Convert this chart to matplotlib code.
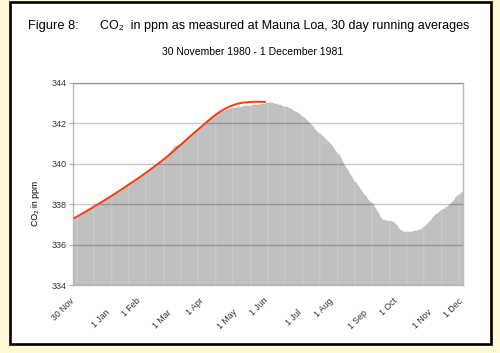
import matplotlib
matplotlib.use("Agg")
import matplotlib.pyplot as plt
from matplotlib.patches import Rectangle

plt.rcParams['font.family'] = ['Liberation Sans', 'DejaVu Sans']

# Daily 30-day running average CO2 (ppm), day 0 = 30 Nov 1980 ... day 366 = 1 Dec 1981
co2_daily = [
    337.25, 337.28, 337.31, 337.34, 337.37, 337.40, 337.43, 337.46, 337.49, 337.52,
    337.55, 337.58, 337.61, 337.64, 337.67, 337.70, 337.73, 337.76, 337.79, 337.82,
    337.85, 337.88, 337.91, 337.94, 337.97, 338.00, 338.04, 338.07, 338.10, 338.14,
    338.20, 338.23, 338.26, 338.29, 338.33, 338.36, 338.39, 338.43, 338.46, 338.50,
    338.53, 338.56, 338.60, 338.63, 338.67, 338.70, 338.74, 338.77, 338.81, 338.84,
    338.88, 338.91, 338.95, 338.98, 339.02, 339.05, 339.09, 339.12, 339.16, 339.19,
    339.23, 339.27, 339.30, 339.34, 339.38, 339.41, 339.45, 339.49, 339.53, 339.56,
    339.60, 339.64, 339.68, 339.72, 339.76, 339.80, 339.84, 339.88, 339.92, 339.96,
    339.99, 340.03, 340.07, 340.11, 340.15, 340.20, 340.25, 340.30, 340.36, 340.42,
    340.48, 340.55, 340.62, 340.70, 340.78, 340.84, 340.86, 340.87, 340.88, 340.90,
    340.92, 340.96, 341.00, 341.04, 341.08, 341.12, 341.16, 341.20, 341.24, 341.28,
    341.33, 341.37, 341.42, 341.46, 341.51, 341.55, 341.60, 341.64, 341.69, 341.73,
    341.78, 341.83, 341.88, 341.93, 341.98, 342.03, 342.07, 342.11, 342.15, 342.20,
    342.25, 342.29, 342.32, 342.36, 342.39, 342.42, 342.45, 342.48, 342.51, 342.53,
    342.55, 342.58, 342.60, 342.62, 342.64, 342.66, 342.68, 342.70, 342.71, 342.73,
    342.74, 342.75, 342.76, 342.77, 342.78, 342.79, 342.80, 342.81, 342.82, 342.82,
    342.83, 342.84, 342.84, 342.85, 342.85, 342.86, 342.87, 342.87, 342.88, 342.88,
    342.89, 342.89, 342.90, 342.90, 342.91, 342.92, 342.93, 342.94, 342.95, 342.96,
    342.97, 342.97, 342.98, 342.98, 342.98, 342.99, 342.99, 342.98, 342.98, 342.97,
    342.96, 342.95, 342.94, 342.92, 342.90, 342.88, 342.86, 342.84, 342.82, 342.81,
    342.80, 342.78, 342.76, 342.74, 342.71, 342.68, 342.65, 342.62, 342.59, 342.56,
    342.54, 342.51, 342.49, 342.45, 342.41, 342.36, 342.31, 342.26, 342.21, 342.16,
    342.12, 342.08, 342.03, 341.97, 341.91, 341.85, 341.79, 341.73, 341.68, 341.62,
    341.57, 341.52, 341.47, 341.42, 341.37, 341.33, 341.28, 341.23, 341.18, 341.13,
    341.08, 341.03, 340.97, 340.91, 340.85, 340.78, 340.72, 340.65, 340.58, 340.50,
    340.42, 340.34, 340.25, 340.15, 340.05, 339.94, 339.86, 339.78, 339.70, 339.62,
    339.54, 339.46, 339.38, 339.29, 339.20, 339.12, 339.04, 338.96, 338.88, 338.80,
    338.73, 338.66, 338.59, 338.52, 338.46, 338.40, 338.34, 338.28, 338.22, 338.16,
    338.10, 338.04, 337.96, 337.88, 337.80, 337.72, 337.63, 337.55, 337.46, 337.38,
    337.30, 337.24, 337.22, 337.21, 337.20, 337.19, 337.18, 337.17, 337.16, 337.15,
    337.13, 337.10, 337.05, 337.00, 336.95, 336.90, 336.84, 336.78, 336.73, 336.70,
    336.67, 336.65, 336.64, 336.64, 336.64, 336.64, 336.64, 336.64, 336.64, 336.65,
    336.67, 336.69, 336.70, 336.70, 336.70, 336.71, 336.72, 336.73, 336.76, 336.80,
    336.85, 336.90, 336.95, 337.00, 337.05, 337.10, 337.17, 337.24, 337.30, 337.35,
    337.40, 337.45, 337.50, 337.54, 337.58, 337.62, 337.66, 337.70, 337.74, 337.77,
    337.80, 337.84, 337.88, 337.92, 337.96, 338.01, 338.06, 338.11, 338.16, 338.22,
    338.29, 338.34, 338.40, 338.46, 338.51, 338.56, 338.62,
]

# Red trend line (day, ppm)
trend_days = [0, 10, 20, 30, 40, 50, 60, 70, 80, 90, 100, 110, 120, 125, 130, 135,
              140, 145, 150, 155, 160, 170, 181]
trend_ppm = [337.3, 337.6, 337.91, 338.23, 338.56, 338.91, 339.26, 339.63, 340.02, 340.44,
             340.9, 341.37, 341.82, 342.05, 342.27, 342.47, 342.64, 342.78, 342.89,
             342.97, 343.02, 343.06, 343.05]

tick_days = [0, 32, 63, 91, 122, 152, 183, 213, 244, 275, 305, 336, 366]
tick_labels = ['30 Nov', '1 Jan', '1 Feb', '1 Mar', '1 Apr', '1 May', '1 Jun',
               '1 Jul', '1 Aug', '1 Sep', '1 Oct', '1 Nov', '1 Dec']
y_ticks = [334, 336, 338, 340, 342, 344]

W, H = 500, 353
fig = plt.figure(figsize=(W / 100, H / 100), dpi=100)
fig.patch.set_facecolor('#FFF9D4')

# white framed box
box = Rectangle((10 / W, 1 - 343.5 / H), 481 / W, 342 / H, transform=fig.transFigure,
                facecolor='white', edgecolor='black', linewidth=1.9, zorder=-5)
fig.patches.append(box)

ax = fig.add_axes([73.3 / W, 1 - 285.2 / H, 389.4 / W, 202.5 / H])
ax.set_zorder(1)
ax.set_facecolor('white')

days = list(range(len(co2_daily)))
base = 334
ax.bar(days, [v - base for v in co2_daily], bottom=base, width=1.0,
       color='#CDCDCD', edgecolor='#B2B2B2', linewidth=0.25, zorder=2)
ax.plot(trend_days, trend_ppm, color='#FF3A0A', linewidth=1.4, zorder=4,
        solid_capstyle='butt', solid_joinstyle='round')

ax.set_xlim(-0.5, 366.5)
ax.set_ylim(334, 344)
ax.set_yticks(y_ticks)
ax.set_yticklabels([str(t) for t in y_ticks], fontsize=6.5)
ax.yaxis.grid(True, color='black', alpha=0.22, linewidth=1.0, zorder=3)
ax.set_axisbelow(False)
ax.set_xticks([])
ax.tick_params(axis='y', length=3, width=0.8, color='#B0B0B0', pad=2, labelcolor='#333333')
for s in ax.spines.values():
    s.set_color('#BBBBBB')
    s.set_linewidth(1.0)

for i, (d, lab) in enumerate(zip(tick_days, tick_labels)):
    dy = -8 if i % 2 == 0 else -16.5
    ax.annotate(lab, xy=(d, 0), xycoords=('data', 'axes fraction'),
                xytext=(2.5 if i % 2 else 1.5, dy), textcoords='offset points',
                rotation=45, ha='right', va='top', fontsize=6.3, color='#333333')

fig.text(28 / W, 1 - 29.5 / H, 'Figure 8:', fontsize=9.3, va='baseline', ha='left')
fig.text(100 / W, 1 - 29.5 / H, 'CO\u2082  in ppm as measured at Mauna Loa, 30 day running averages',
         fontsize=9, va='baseline', ha='left')
fig.text(253 / W, 1 - 52 / H, '30 November 1980 - 1 December 1981', fontsize=7.5,
         va='center', ha='center')
fig.text(35 / W, 1 - 203 / H, 'CO\u2082 in ppm', fontsize=6.3, rotation=90,
         va='center', ha='center')

fig.savefig('out.png', dpi=100, facecolor=fig.get_facecolor())
